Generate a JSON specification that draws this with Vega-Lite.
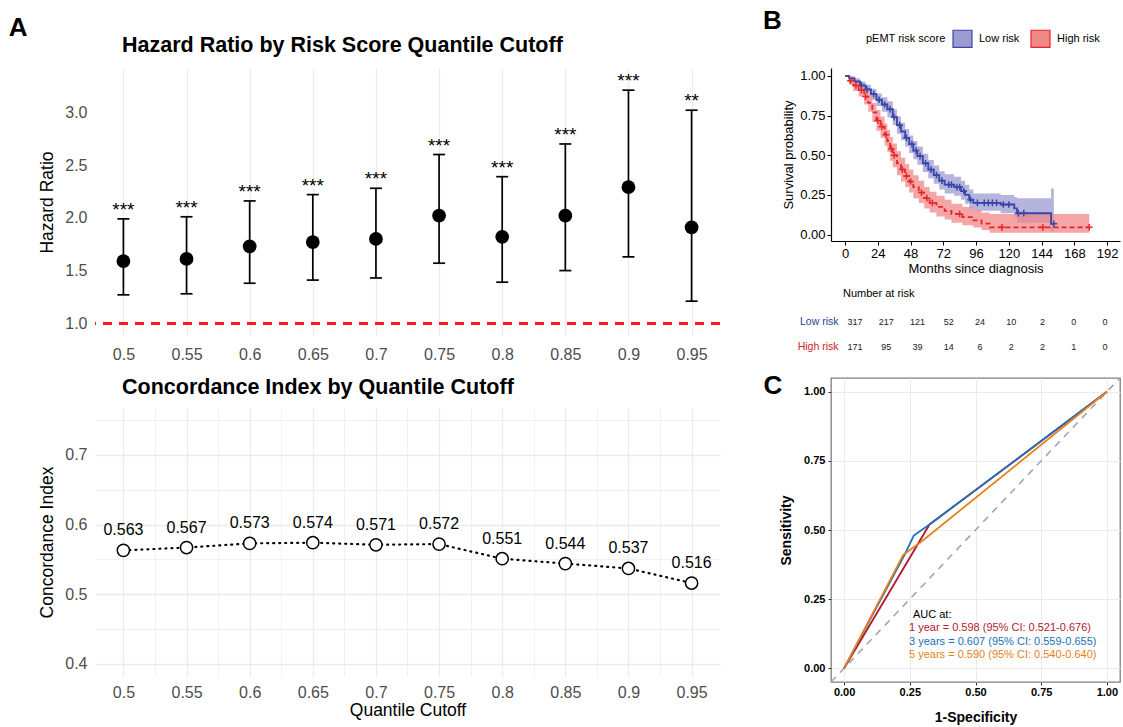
{
  "$schema": "https://vega.github.io/schema/vega-lite/v6.json",
  "background": "white",
  "padding": {"left": 8, "top": 8, "right": 0, "bottom": 0},
  "config": {
    "font": "Liberation Sans",
    "view": {"stroke": null},
    "title": {"color": "black", "fontWeight": "bold", "font": "Liberation Sans"},
    "axis": {"labelFont": "Liberation Sans", "titleFont": "Liberation Sans"},
    "legend": {"labelFont": "Liberation Sans", "titleFont": "Liberation Sans"},
    "text": {"font": "Liberation Sans"}
  },
  "datasets": {
    "hr": [
      {"cutoff": 0.5, "hr": 1.59, "lo": 1.27, "hi": 1.99, "sig": "***"},
      {"cutoff": 0.55, "hr": 1.61, "lo": 1.28, "hi": 2.01, "sig": "***"},
      {"cutoff": 0.6, "hr": 1.73, "lo": 1.38, "hi": 2.16, "sig": "***"},
      {"cutoff": 0.65, "hr": 1.77, "lo": 1.41, "hi": 2.22, "sig": "***"},
      {"cutoff": 0.7, "hr": 1.80, "lo": 1.43, "hi": 2.28, "sig": "***"},
      {"cutoff": 0.75, "hr": 2.02, "lo": 1.57, "hi": 2.60, "sig": "***"},
      {"cutoff": 0.8, "hr": 1.82, "lo": 1.39, "hi": 2.39, "sig": "***"},
      {"cutoff": 0.85, "hr": 2.02, "lo": 1.50, "hi": 2.70, "sig": "***"},
      {"cutoff": 0.9, "hr": 2.29, "lo": 1.63, "hi": 3.21, "sig": "***"},
      {"cutoff": 0.95, "hr": 1.91, "lo": 1.21, "hi": 3.02, "sig": "**"}
    ],
    "cidx": [
      {"cutoff": 0.5, "c": 0.563},
      {"cutoff": 0.55, "c": 0.567},
      {"cutoff": 0.6, "c": 0.573},
      {"cutoff": 0.65, "c": 0.574},
      {"cutoff": 0.7, "c": 0.571},
      {"cutoff": 0.75, "c": 0.572},
      {"cutoff": 0.8, "c": 0.551},
      {"cutoff": 0.85, "c": 0.544},
      {"cutoff": 0.9, "c": 0.537},
      {"cutoff": 0.95, "c": 0.516}
    ],
    "km": [
      {"group": "Low risk", "t": 0, "s": 1, "lo": 1, "hi": 1},
      {"group": "Low risk", "t": 3, "s": 0.985, "lo": 0.972, "hi": 0.998},
      {"group": "Low risk", "t": 7, "s": 0.965, "lo": 0.945, "hi": 0.985},
      {"group": "Low risk", "t": 11, "s": 0.94, "lo": 0.915, "hi": 0.965},
      {"group": "Low risk", "t": 15, "s": 0.915, "lo": 0.885, "hi": 0.945},
      {"group": "Low risk", "t": 19, "s": 0.885, "lo": 0.85, "hi": 0.92},
      {"group": "Low risk", "t": 23, "s": 0.85, "lo": 0.81, "hi": 0.89},
      {"group": "Low risk", "t": 27, "s": 0.82, "lo": 0.775, "hi": 0.865},
      {"group": "Low risk", "t": 31, "s": 0.79, "lo": 0.74, "hi": 0.84},
      {"group": "Low risk", "t": 35, "s": 0.74, "lo": 0.69, "hi": 0.79},
      {"group": "Low risk", "t": 38, "s": 0.69, "lo": 0.635, "hi": 0.745},
      {"group": "Low risk", "t": 41, "s": 0.65, "lo": 0.595, "hi": 0.705},
      {"group": "Low risk", "t": 44, "s": 0.61, "lo": 0.555, "hi": 0.665},
      {"group": "Low risk", "t": 47, "s": 0.57, "lo": 0.515, "hi": 0.625},
      {"group": "Low risk", "t": 50, "s": 0.53, "lo": 0.475, "hi": 0.59},
      {"group": "Low risk", "t": 53, "s": 0.495, "lo": 0.44, "hi": 0.555},
      {"group": "Low risk", "t": 57, "s": 0.45, "lo": 0.395, "hi": 0.51},
      {"group": "Low risk", "t": 61, "s": 0.41, "lo": 0.355, "hi": 0.47},
      {"group": "Low risk", "t": 65, "s": 0.375, "lo": 0.32, "hi": 0.435},
      {"group": "Low risk", "t": 69, "s": 0.34, "lo": 0.285, "hi": 0.40},
      {"group": "Low risk", "t": 73, "s": 0.315, "lo": 0.26, "hi": 0.38},
      {"group": "Low risk", "t": 80, "s": 0.30, "lo": 0.245, "hi": 0.365},
      {"group": "Low risk", "t": 85, "s": 0.275, "lo": 0.22, "hi": 0.34},
      {"group": "Low risk", "t": 88, "s": 0.25, "lo": 0.195, "hi": 0.315},
      {"group": "Low risk", "t": 91, "s": 0.22, "lo": 0.165, "hi": 0.285},
      {"group": "Low risk", "t": 94, "s": 0.20, "lo": 0.15, "hi": 0.26},
      {"group": "Low risk", "t": 114, "s": 0.19, "lo": 0.135, "hi": 0.25},
      {"group": "Low risk", "t": 124, "s": 0.165, "lo": 0.11, "hi": 0.235},
      {"group": "Low risk", "t": 126, "s": 0.135, "lo": 0.075, "hi": 0.23},
      {"group": "Low risk", "t": 151, "s": 0.068, "lo": 0.02, "hi": 0.29},
      {"group": "Low risk", "t": 153, "s": 0.068, "lo": 0.02, "hi": 0.29},
      {"group": "High risk", "t": 0, "s": 1, "lo": 1, "hi": 1},
      {"group": "High risk", "t": 3, "s": 0.97, "lo": 0.945, "hi": 0.995},
      {"group": "High risk", "t": 6, "s": 0.94, "lo": 0.905, "hi": 0.975},
      {"group": "High risk", "t": 10, "s": 0.91, "lo": 0.87, "hi": 0.95},
      {"group": "High risk", "t": 14, "s": 0.87, "lo": 0.82, "hi": 0.92},
      {"group": "High risk", "t": 17, "s": 0.83, "lo": 0.775, "hi": 0.885},
      {"group": "High risk", "t": 20, "s": 0.77, "lo": 0.71, "hi": 0.83},
      {"group": "High risk", "t": 23, "s": 0.72, "lo": 0.655, "hi": 0.785},
      {"group": "High risk", "t": 26, "s": 0.68, "lo": 0.61, "hi": 0.745},
      {"group": "High risk", "t": 29, "s": 0.63, "lo": 0.56, "hi": 0.70},
      {"group": "High risk", "t": 31, "s": 0.59, "lo": 0.52, "hi": 0.66},
      {"group": "High risk", "t": 33, "s": 0.54, "lo": 0.465, "hi": 0.615},
      {"group": "High risk", "t": 35, "s": 0.50, "lo": 0.425, "hi": 0.575},
      {"group": "High risk", "t": 38, "s": 0.45, "lo": 0.375, "hi": 0.525},
      {"group": "High risk", "t": 41, "s": 0.41, "lo": 0.335, "hi": 0.485},
      {"group": "High risk", "t": 44, "s": 0.37, "lo": 0.30, "hi": 0.445},
      {"group": "High risk", "t": 47, "s": 0.335, "lo": 0.265, "hi": 0.41},
      {"group": "High risk", "t": 50, "s": 0.30, "lo": 0.23, "hi": 0.375},
      {"group": "High risk", "t": 54, "s": 0.265, "lo": 0.20, "hi": 0.34},
      {"group": "High risk", "t": 58, "s": 0.23, "lo": 0.165, "hi": 0.30},
      {"group": "High risk", "t": 62, "s": 0.20, "lo": 0.14, "hi": 0.27},
      {"group": "High risk", "t": 67, "s": 0.175, "lo": 0.115, "hi": 0.245},
      {"group": "High risk", "t": 73, "s": 0.15, "lo": 0.095, "hi": 0.22},
      {"group": "High risk", "t": 78, "s": 0.13, "lo": 0.075, "hi": 0.195},
      {"group": "High risk", "t": 86, "s": 0.11, "lo": 0.06, "hi": 0.175},
      {"group": "High risk", "t": 94, "s": 0.09, "lo": 0.045, "hi": 0.155},
      {"group": "High risk", "t": 100, "s": 0.07, "lo": 0.03, "hi": 0.14},
      {"group": "High risk", "t": 106, "s": 0.046, "lo": 0.012, "hi": 0.13},
      {"group": "High risk", "t": 179, "s": 0.046, "lo": 0.012, "hi": 0.13}
    ],
    "cens": [
      {"group": "Low risk", "t": 12, "s": 0.94},
      {"group": "Low risk", "t": 16, "s": 0.915},
      {"group": "Low risk", "t": 21, "s": 0.885},
      {"group": "Low risk", "t": 25, "s": 0.85},
      {"group": "Low risk", "t": 29, "s": 0.82},
      {"group": "Low risk", "t": 33, "s": 0.79},
      {"group": "Low risk", "t": 36, "s": 0.74},
      {"group": "Low risk", "t": 40, "s": 0.69},
      {"group": "Low risk", "t": 45, "s": 0.61},
      {"group": "Low risk", "t": 49, "s": 0.57},
      {"group": "Low risk", "t": 52, "s": 0.53},
      {"group": "Low risk", "t": 55, "s": 0.495},
      {"group": "Low risk", "t": 59, "s": 0.45},
      {"group": "Low risk", "t": 63, "s": 0.41},
      {"group": "Low risk", "t": 67, "s": 0.375},
      {"group": "Low risk", "t": 71, "s": 0.34},
      {"group": "Low risk", "t": 76, "s": 0.315},
      {"group": "Low risk", "t": 78, "s": 0.315},
      {"group": "Low risk", "t": 82, "s": 0.30},
      {"group": "Low risk", "t": 84, "s": 0.30},
      {"group": "Low risk", "t": 87, "s": 0.275},
      {"group": "Low risk", "t": 92, "s": 0.22},
      {"group": "Low risk", "t": 97, "s": 0.20},
      {"group": "Low risk", "t": 102, "s": 0.20},
      {"group": "Low risk", "t": 105, "s": 0.20},
      {"group": "Low risk", "t": 108, "s": 0.20},
      {"group": "Low risk", "t": 111, "s": 0.20},
      {"group": "Low risk", "t": 116, "s": 0.19},
      {"group": "Low risk", "t": 120, "s": 0.19},
      {"group": "Low risk", "t": 127, "s": 0.135},
      {"group": "Low risk", "t": 131, "s": 0.135},
      {"group": "Low risk", "t": 153, "s": 0.068},
      {"group": "High risk", "t": 4, "s": 0.97},
      {"group": "High risk", "t": 8, "s": 0.94},
      {"group": "High risk", "t": 12, "s": 0.91},
      {"group": "High risk", "t": 15, "s": 0.87},
      {"group": "High risk", "t": 24, "s": 0.72},
      {"group": "High risk", "t": 27, "s": 0.68},
      {"group": "High risk", "t": 30, "s": 0.63},
      {"group": "High risk", "t": 34, "s": 0.54},
      {"group": "High risk", "t": 36, "s": 0.50},
      {"group": "High risk", "t": 42, "s": 0.41},
      {"group": "High risk", "t": 45, "s": 0.37},
      {"group": "High risk", "t": 48, "s": 0.335},
      {"group": "High risk", "t": 56, "s": 0.265},
      {"group": "High risk", "t": 60, "s": 0.23},
      {"group": "High risk", "t": 64, "s": 0.20},
      {"group": "High risk", "t": 84, "s": 0.13},
      {"group": "High risk", "t": 115, "s": 0.046},
      {"group": "High risk", "t": 145, "s": 0.046},
      {"group": "High risk", "t": 179, "s": 0.046}
    ],
    "risk": [
      {"group": "Low risk", "t": 0, "n": 317},
      {"group": "Low risk", "t": 24, "n": 217},
      {"group": "Low risk", "t": 48, "n": 121},
      {"group": "Low risk", "t": 72, "n": 52},
      {"group": "Low risk", "t": 96, "n": 24},
      {"group": "Low risk", "t": 120, "n": 10},
      {"group": "Low risk", "t": 144, "n": 2},
      {"group": "Low risk", "t": 168, "n": 0},
      {"group": "Low risk", "t": 192, "n": 0},
      {"group": "High risk", "t": 0, "n": 171},
      {"group": "High risk", "t": 24, "n": 95},
      {"group": "High risk", "t": 48, "n": 39},
      {"group": "High risk", "t": 72, "n": 14},
      {"group": "High risk", "t": 96, "n": 6},
      {"group": "High risk", "t": 120, "n": 2},
      {"group": "High risk", "t": 144, "n": 2},
      {"group": "High risk", "t": 168, "n": 1},
      {"group": "High risk", "t": 192, "n": 0}
    ],
    "roc": [
      {"year": "1 year", "i": 0, "fpr": 0, "tpr": 0},
      {"year": "1 year", "i": 1, "fpr": 0.325, "tpr": 0.52},
      {"year": "1 year", "i": 2, "fpr": 1, "tpr": 1},
      {"year": "3 years", "i": 0, "fpr": 0, "tpr": 0},
      {"year": "3 years", "i": 1, "fpr": 0.23, "tpr": 0.41},
      {"year": "3 years", "i": 2, "fpr": 0.265, "tpr": 0.48},
      {"year": "3 years", "i": 3, "fpr": 0.325, "tpr": 0.52},
      {"year": "3 years", "i": 4, "fpr": 1, "tpr": 1},
      {"year": "5 years", "i": 0, "fpr": 0, "tpr": 0},
      {"year": "5 years", "i": 1, "fpr": 0.225, "tpr": 0.41},
      {"year": "5 years", "i": 2, "fpr": 0.29, "tpr": 0.455},
      {"year": "5 years", "i": 3, "fpr": 1, "tpr": 1}
    ],
    "diag": [{"v": -0.05}, {"v": 1.05}]
  },
  "spacing": 40,
  "resolve": {"scale": {"fill": "independent", "stroke": "independent", "color": "independent"}},
  "hconcat": [
    {
      "title": {"text": "A", "anchor": "start", "fontSize": 26, "dx": -30, "dy": 16, "offset": 2},
      "spacing": 14,
      "vconcat": [
        {
          "width": 625,
          "height": 268,
          "title": {"text": ["", "Hazard Ratio by Risk Score Quantile Cutoff"], "lineHeight": 8, "anchor": "start", "frame": "group", "dx": 27, "fontSize": 21.5, "offset": 12},
          "data": {"name": "hr"},
          "layer": [
            {
              "mark": {"type": "rule", "color": "#FF1A1A", "strokeDash": [9, 7], "strokeWidth": 2.2},
              "encoding": {"y": {"datum": 1, "type": "quantitative"}}
            },
            {
              "mark": {"type": "rule", "color": "black", "strokeWidth": 1.7},
              "encoding": {
                "x": {"field": "cutoff", "type": "quantitative", "scale": {"domain": [0.4775, 0.9725], "nice": false, "zero": false},
                  "axis": {"values": [0.5, 0.525, 0.55, 0.575, 0.6, 0.625, 0.65, 0.675, 0.7, 0.725, 0.75, 0.775, 0.8, 0.825, 0.85, 0.875, 0.9, 0.925, 0.95],
                    "labelExpr": "(round(datum.value*40) % 2 == 0) ? '' + (round(datum.value*20)/20) : ''",
                    "title": null, "domain": false, "ticks": false, "labelFontSize": 16, "labelColor": "#4D4D4D", "labelPadding": 10, "labelFlush": false, "labelOverlap": false,
                    "gridColor": "#EBEBEB", "gridWidth": {"condition": {"test": "round(datum.value*40) % 2 == 1", "value": 0.7}, "value": 1.3}}},
                "y": {"field": "lo", "type": "quantitative", "scale": {"domain": [0.88, 3.42], "nice": false, "zero": false},
                  "axis": {"values": [1, 1.25, 1.5, 1.75, 2, 2.25, 2.5, 2.75, 3, 3.25],
                    "labelExpr": "(round(datum.value*4) % 2 == 0) ? format(datum.value, '.1f') : ''",
                    "title": "Hazard Ratio", "titleFontSize": 17.5, "titleFontWeight": "normal", "titleColor": "black", "titlePadding": 8,
                    "domain": false, "ticks": false, "labelFontSize": 16, "labelColor": "#4D4D4D", "labelPadding": 8, "labelOverlap": false,
                    "gridColor": "#EBEBEB", "gridWidth": {"condition": {"test": "round(datum.value*4) % 2 == 1", "value": 0.7}, "value": 1.3}}},
                "y2": {"field": "hi"}
              }
            },
            {
              "mark": {"type": "tick", "orient": "horizontal", "size": 12, "thickness": 1.7, "color": "black", "opacity": 1},
              "encoding": {"x": {"field": "cutoff", "type": "quantitative"}, "y": {"field": "lo", "type": "quantitative"}}
            },
            {
              "mark": {"type": "tick", "orient": "horizontal", "size": 12, "thickness": 1.7, "color": "black", "opacity": 1},
              "encoding": {"x": {"field": "cutoff", "type": "quantitative"}, "y": {"field": "hi", "type": "quantitative"}}
            },
            {
              "mark": {"type": "point", "filled": true, "size": 190, "color": "black", "opacity": 1},
              "encoding": {"x": {"field": "cutoff", "type": "quantitative"}, "y": {"field": "hr", "type": "quantitative"}}
            },
            {
              "mark": {"type": "text", "fontSize": 19, "baseline": "alphabetic", "dy": -3, "color": "black"},
              "encoding": {"x": {"field": "cutoff", "type": "quantitative"}, "y": {"field": "hi", "type": "quantitative"}, "text": {"field": "sig"}}
            }
          ]
        },
        {
          "width": 625,
          "height": 268,
          "title": {"text": "Concordance Index by Quantile Cutoff", "anchor": "start", "frame": "group", "dx": 27, "fontSize": 21.5, "offset": 10},
          "data": {"name": "cidx"},
          "encoding": {
            "x": {"field": "cutoff", "type": "quantitative", "scale": {"domain": [0.4775, 0.9725], "nice": false, "zero": false},
              "axis": {"values": [0.5, 0.525, 0.55, 0.575, 0.6, 0.625, 0.65, 0.675, 0.7, 0.725, 0.75, 0.775, 0.8, 0.825, 0.85, 0.875, 0.9, 0.925, 0.95],
                "labelExpr": "(round(datum.value*40) % 2 == 0) ? '' + (round(datum.value*20)/20) : ''",
                "title": "Quantile Cutoff", "titleFontSize": 17.5, "titleFontWeight": "normal", "titleColor": "black", "titlePadding": 1,
                "domain": false, "ticks": false, "labelFontSize": 16, "labelColor": "#4D4D4D", "labelPadding": 8, "labelFlush": false, "labelOverlap": false,
                "gridColor": "#EBEBEB", "gridWidth": {"condition": {"test": "round(datum.value*40) % 2 == 1", "value": 0.7}, "value": 1.3}}},
            "y": {"field": "c", "type": "quantitative", "scale": {"domain": [0.3825, 0.7675], "nice": false, "zero": false},
              "axis": {"values": [0.4, 0.45, 0.5, 0.55, 0.6, 0.65, 0.7, 0.75],
                "labelExpr": "(round(datum.value*20) % 2 == 0) ? format(datum.value, '.1f') : ''",
                "title": "Concordance Index", "titleFontSize": 17.5, "titleFontWeight": "normal", "titleColor": "black", "titlePadding": 8,
                "domain": false, "ticks": false, "labelFontSize": 16, "labelColor": "#4D4D4D", "labelPadding": 8, "labelOverlap": false,
                "gridColor": "#EBEBEB", "gridWidth": {"condition": {"test": "round(datum.value*20) % 2 == 1", "value": 0.7}, "value": 1.3}}}
          },
          "layer": [
            {"mark": {"type": "line", "strokeDash": [1, 5], "strokeWidth": 2.2, "color": "black", "strokeCap": "round"}},
            {"mark": {"type": "point", "filled": true, "fill": "white", "stroke": "black", "strokeWidth": 1.5, "size": 150, "opacity": 1}},
            {"mark": {"type": "text", "fontSize": 16, "baseline": "middle", "dy": -20, "color": "black"},
              "encoding": {"text": {"field": "c", "type": "quantitative", "format": ".3f"}}}
          ]
        }
      ]
    },
    {
      "title": {"text": "B", "anchor": "start", "fontSize": 26, "dx": 0, "dy": 8, "offset": 2},
      "spacing": 13,
      "resolve": {"scale": {"fill": "independent", "stroke": "independent", "color": "independent"}},
      "vconcat": [
        {
          "width": 289,
          "height": 173,
          "encoding": {
            "x": {"field": "t", "type": "quantitative", "scale": {"domain": [-10.3, 201.5], "nice": false, "zero": false},
              "axis": {"values": [0, 24, 48, 72, 96, 120, 144, 168, 192], "title": "Months since diagnosis", "titleFontSize": 13, "titleFontWeight": "normal", "titleColor": "black", "titlePadding": 2,
                "labelFontSize": 13, "labelColor": "black", "labelPadding": 2, "labelFlush": false, "labelOverlap": false, "labelSeparation": 0, "domainColor": "black", "domainWidth": 1.2, "tickColor": "black", "tickSize": 4, "grid": false}}
          },
          "layer": [
            {
              "data": {"name": "km"},
              "mark": {"type": "area", "interpolate": "step-after", "fillOpacity": 0.75},
              "encoding": {
                "y": {"field": "lo", "type": "quantitative", "scale": {"domain": [-0.04, 1.05], "nice": false, "zero": false},
                  "axis": {"values": [0, 0.25, 0.5, 0.75, 1], "format": ".2f", "title": "Survival probability", "titleFontSize": 13, "titleFontWeight": "normal", "titleColor": "black", "titlePadding": 4,
                    "labelFontSize": 13, "labelColor": "black", "labelPadding": 2, "domainColor": "black", "domainWidth": 1.2, "tickColor": "black", "tickSize": 4, "grid": false}},
                "y2": {"field": "hi"},
                "fill": {"field": "group", "type": "nominal", "scale": {"domain": ["Low risk", "High risk"], "range": ["#9B9BD0", "#F08888"]},
                  "legend": {"title": "pEMT risk score", "orient": "none", "legendX": 35, "legendY": -40, "direction": "horizontal", "titleOrient": "left", "titleFontSize": 11, "titleFontWeight": "normal", "titleColor": "black",
                    "labelFontSize": 11, "labelColor": "black", "symbolType": "M-1,-0.9H1V0.9H-1Z", "symbolSize": 361, "symbolStrokeWidth": 1.2, "columnPadding": 8, "labelOffset": 6, "titlePadding": 6}}
              }
            },
            {
              "data": {"name": "km"},
              "transform": [{"filter": "datum.group === 'High risk'"}],
              "mark": {"type": "line", "interpolate": "step-after", "strokeWidth": 1.8, "strokeDash": [5, 3]},
              "encoding": {
                "y": {"field": "s", "type": "quantitative"},
                "stroke": {"field": "group", "type": "nominal", "scale": {"domain": ["Low risk", "High risk"], "range": ["#3C46A8", "#E8262A"]},
                  "legend": {"title": "pEMT risk score", "orient": "none", "legendX": 35, "legendY": -40, "direction": "horizontal", "titleOrient": "left", "titleFontSize": 11, "titleFontWeight": "normal", "titleColor": "black",
                    "labelFontSize": 11, "labelColor": "black", "symbolType": "M-1,-0.9H1V0.9H-1Z", "symbolSize": 361, "symbolStrokeWidth": 1.2, "columnPadding": 8, "labelOffset": 6, "titlePadding": 6}}
              }
            },
            {
              "data": {"name": "km"},
              "transform": [{"filter": "datum.group === 'Low risk'"}],
              "mark": {"type": "line", "interpolate": "step-after", "strokeWidth": 1.8},
              "encoding": {
                "y": {"field": "s", "type": "quantitative"},
                "stroke": {"field": "group", "type": "nominal"}
              }
            },
            {
              "data": {"name": "cens"},
              "mark": {"type": "point", "shape": "M-1,0H1M0,-1V1", "filled": false, "size": 45, "strokeWidth": 1.5, "opacity": 1},
              "encoding": {
                "y": {"field": "s", "type": "quantitative"},
                "stroke": {"field": "group", "type": "nominal"}
              }
            },
            {
              "data": {"values": [{}]},
              "mark": {"type": "text", "text": "Log-rank p < 0.001", "fontSize": 15.5, "color": "black"},
              "encoding": {"x": {"datum": 137, "type": "quantitative"}, "y": {"datum": 0.948, "type": "quantitative"}}
            }
          ]
        },
        {
          "width": 289,
          "height": 50,
          "title": {"text": "Number at risk", "anchor": "start", "frame": "group", "fontSize": 11, "fontWeight": "normal", "dx": 12, "offset": 10},
          "data": {"name": "risk"},
          "mark": {"type": "text", "fontSize": 9, "color": "#222222"},
          "encoding": {
            "x": {"field": "t", "type": "quantitative", "scale": {"domain": [-18.4, 203.6], "nice": false, "zero": false}, "axis": null},
            "y": {"field": "group", "type": "nominal", "sort": ["Low risk", "High risk"],
              "axis": {"title": null, "domain": false, "ticks": false, "grid": false, "labelFontSize": 10.5, "labelPadding": -7,
                "labelColor": {"condition": {"test": "datum.value === 'Low risk'", "value": "#2E3B9E"}, "value": "#CC2229"}}},
            "text": {"field": "n", "type": "quantitative"}
          }
        },
        {
          "width": 289,
          "height": 304,
          "view": {"stroke": "#7F7F7F", "strokeWidth": 1.3},
          "title": {"text": "C", "anchor": "start", "fontSize": 26, "dx": -16, "offset": -24},
          "layer": [
            {
              "data": {"name": "diag"},
              "mark": {"type": "line", "strokeDash": [7, 6], "color": "#A6A6A6", "strokeWidth": 1.6},
              "encoding": {
                "x": {"field": "v", "type": "quantitative", "scale": {"domain": [-0.05, 1.05], "nice": false, "zero": false},
                  "axis": {"values": [0, 0.125, 0.25, 0.375, 0.5, 0.625, 0.75, 0.875, 1],
                    "labelExpr": "(round(datum.value*8) % 2 == 0) ? format(datum.value, '.2f') : ''",
                    "title": "1-Specificity", "titleFontSize": 14, "titleFontWeight": "bold", "titleColor": "black", "titlePadding": 13,
                    "domain": false, "grid": true, "labelFontSize": 11, "labelFontWeight": "bold", "labelColor": "black", "labelPadding": 1, "labelFlush": false, "labelOverlap": false,
                    "tickColor": "#333333", "tickSize": 3, "tickOpacity": {"condition": {"test": "round(datum.value*8) % 2 == 1", "value": 0}, "value": 1},
                    "gridColor": "#EBEBEB", "gridWidth": {"condition": {"test": "round(datum.value*8) % 2 == 1", "value": 0.6}, "value": 1.1}}},
                "y": {"field": "v", "type": "quantitative", "scale": {"domain": [-0.05, 1.05], "nice": false, "zero": false},
                  "axis": {"values": [0, 0.125, 0.25, 0.375, 0.5, 0.625, 0.75, 0.875, 1],
                    "labelExpr": "(round(datum.value*8) % 2 == 0) ? format(datum.value, '.2f') : ''",
                    "title": "Sensitivity", "titleFontSize": 14, "titleFontWeight": "bold", "titleColor": "black", "titlePadding": 10,
                    "domain": false, "grid": true, "labelFontSize": 11, "labelFontWeight": "bold", "labelColor": "black", "labelPadding": 3, "labelOverlap": false,
                    "tickColor": "#333333", "tickSize": 3, "tickOpacity": {"condition": {"test": "round(datum.value*8) % 2 == 1", "value": 0}, "value": 1},
                    "gridColor": "#EBEBEB", "gridWidth": {"condition": {"test": "round(datum.value*8) % 2 == 1", "value": 0.6}, "value": 1.1}}}
              }
            },
            {
              "data": {"name": "roc"},
              "mark": {"type": "line", "strokeWidth": 1.8},
              "encoding": {
                "x": {"field": "fpr", "type": "quantitative"},
                "y": {"field": "tpr", "type": "quantitative"},
                "order": {"field": "i", "type": "quantitative"},
                "color": {"field": "year", "type": "nominal", "scale": {"domain": ["1 year", "3 years", "5 years"], "range": ["#B2182B", "#2171B5", "#E6801A"]}, "legend": null}
              }
            },
            {
              "data": {"values": [{}]},
              "mark": {"type": "text", "text": "AUC at:", "fontSize": 11, "align": "left", "baseline": "middle", "color": "black"},
              "encoding": {"x": {"datum": 0.262, "type": "quantitative"}, "y": {"datum": 0.194, "type": "quantitative"}}
            },
            {
              "data": {"values": [{}]},
              "mark": {"type": "text", "text": "1 year = 0.598 (95% CI: 0.521-0.676)", "fontSize": 11, "align": "left", "baseline": "middle", "color": "#B2182B"},
              "encoding": {"x": {"datum": 0.247, "type": "quantitative"}, "y": {"datum": 0.147, "type": "quantitative"}}
            },
            {
              "data": {"values": [{}]},
              "mark": {"type": "text", "text": "3 years = 0.607 (95% CI: 0.559-0.655)", "fontSize": 11, "align": "left", "baseline": "middle", "color": "#2171B5"},
              "encoding": {"x": {"datum": 0.247, "type": "quantitative"}, "y": {"datum": 0.095, "type": "quantitative"}}
            },
            {
              "data": {"values": [{}]},
              "mark": {"type": "text", "text": "5 years = 0.590 (95% CI: 0.540-0.640)", "fontSize": 11, "align": "left", "baseline": "middle", "color": "#E6801A"},
              "encoding": {"x": {"datum": 0.247, "type": "quantitative"}, "y": {"datum": 0.047, "type": "quantitative"}}
            }
          ]
        }
      ]
    }
  ]
}
